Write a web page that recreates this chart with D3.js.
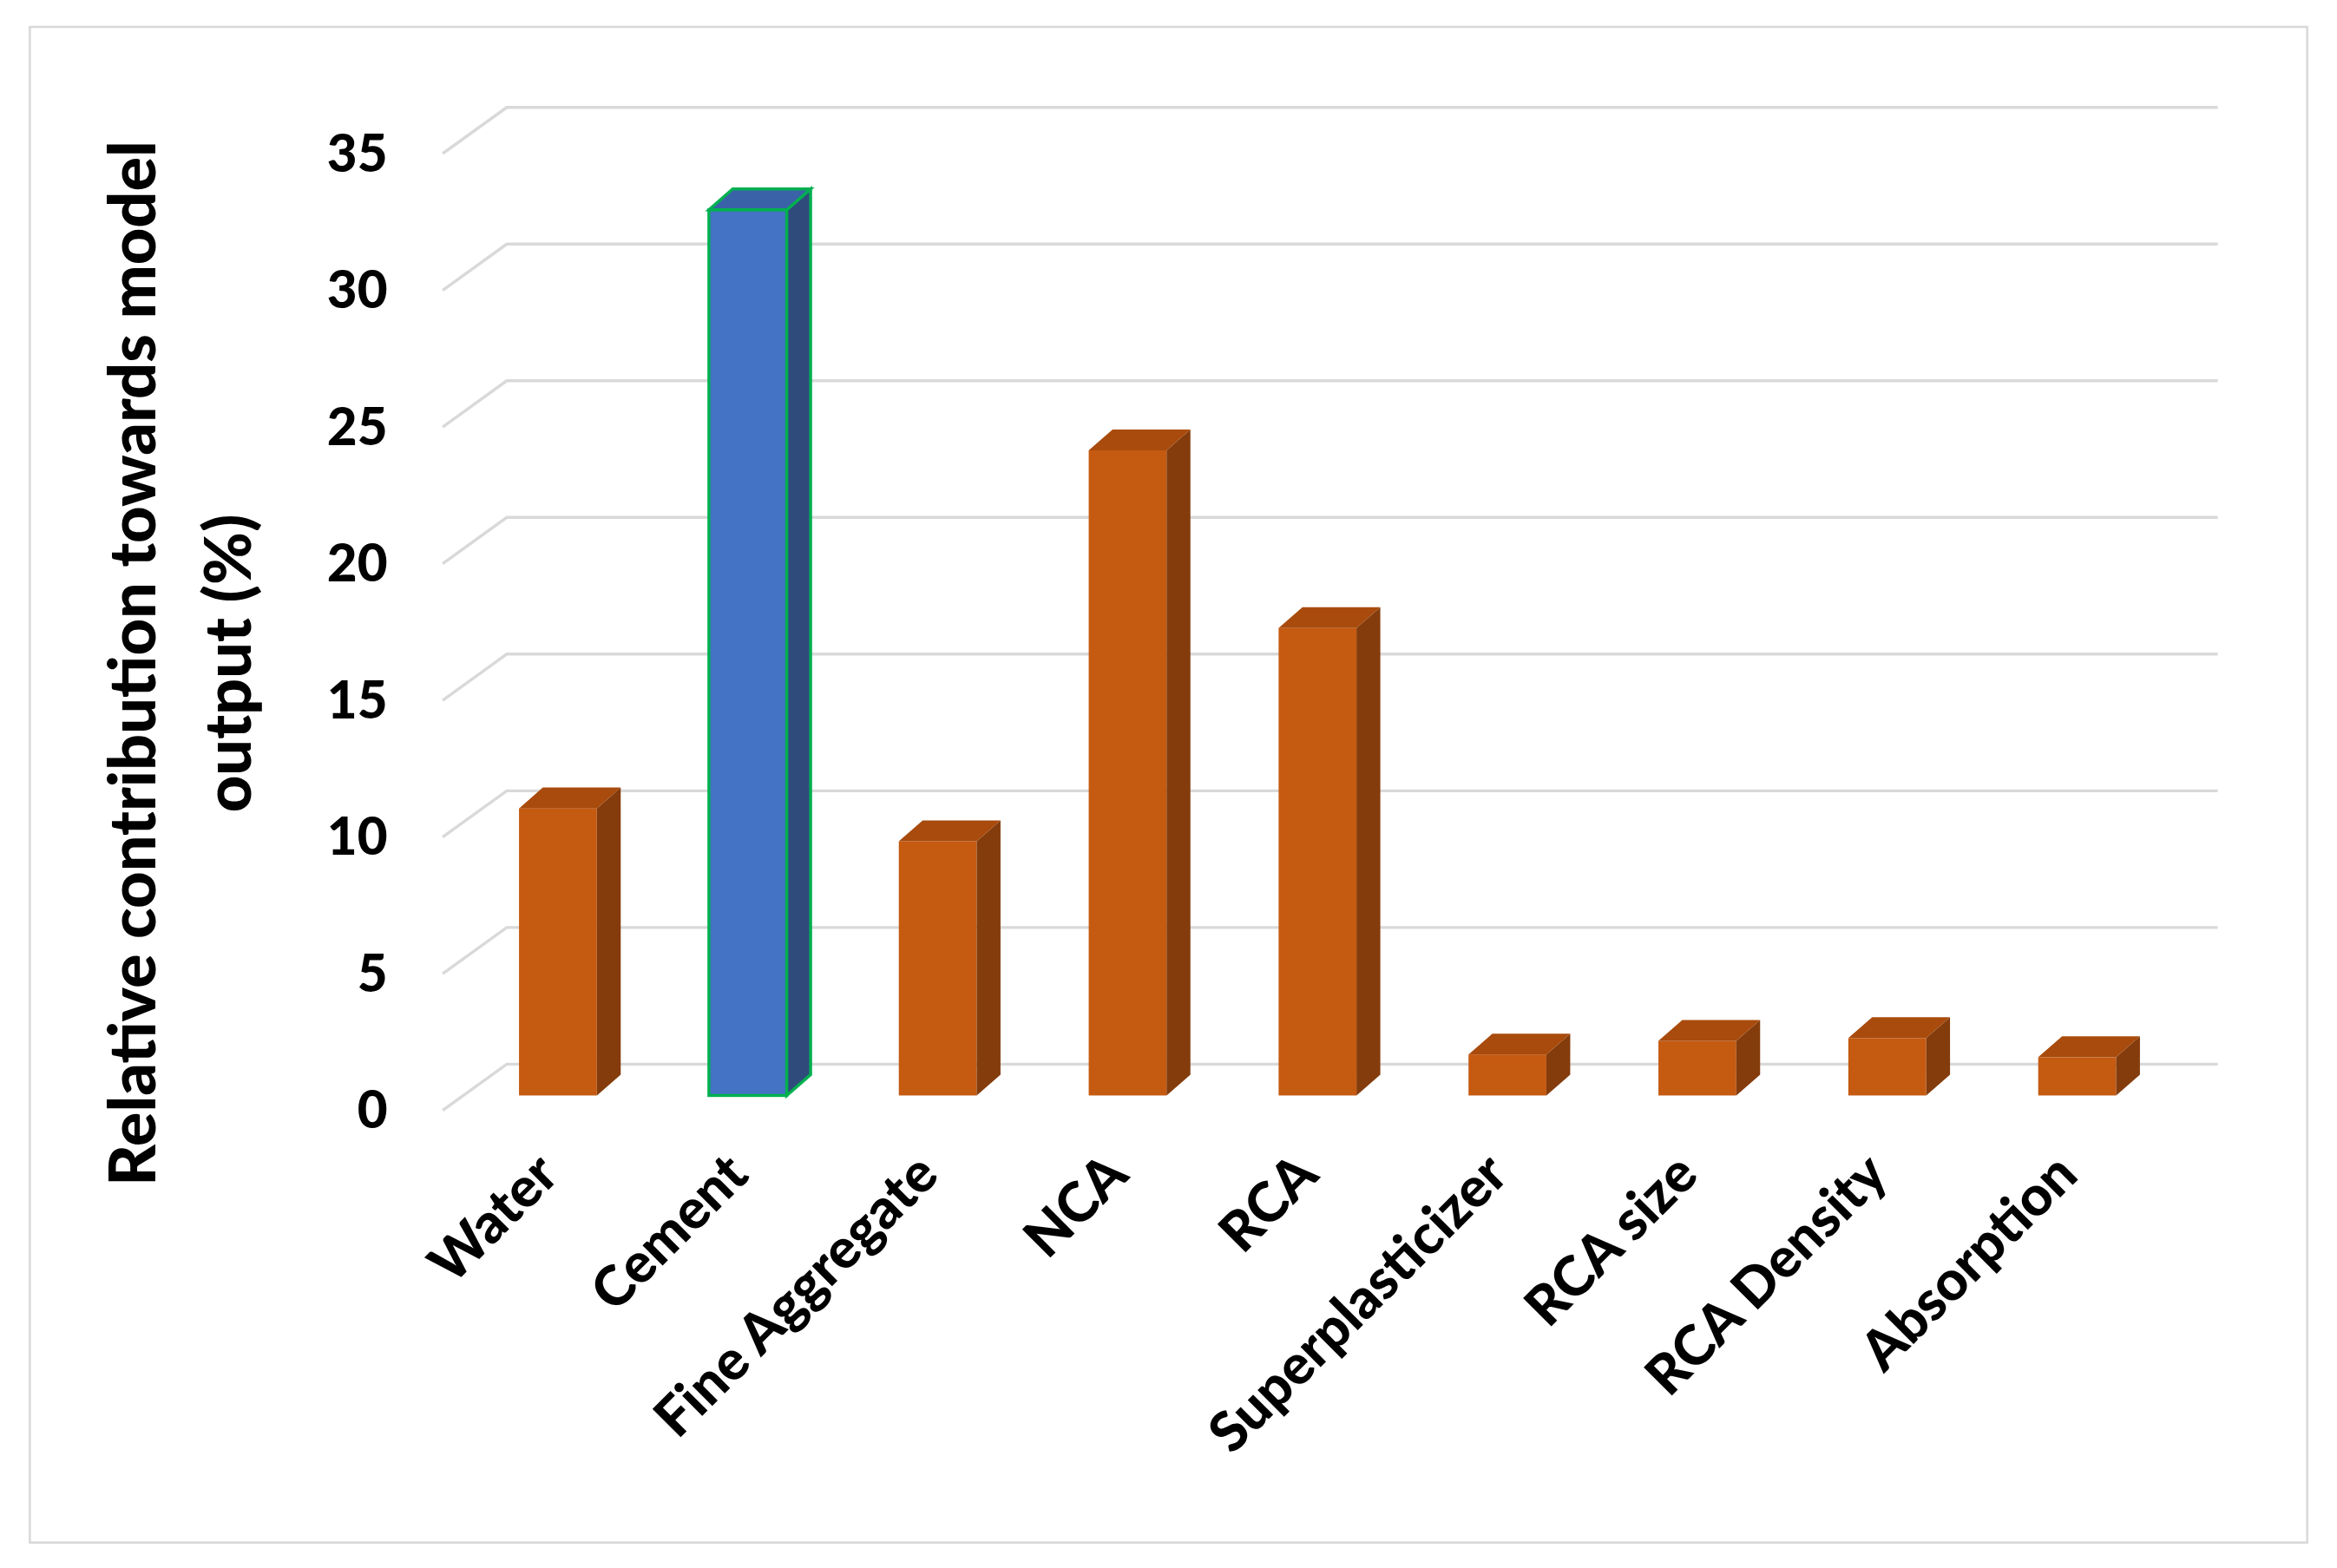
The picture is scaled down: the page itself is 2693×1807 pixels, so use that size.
<!DOCTYPE html>
<html><head><meta charset="utf-8">
<script src="https://cdn.jsdelivr.net/npm/d3@7"></script>
<style>body{margin:0;background:#fff}</style>
</head><body><div id="chart"></div>
<script>
const categories = ['Water', 'Cement', 'Fine Aggregate', 'NCA', 'RCA', 'Superplasticizer', 'RCA size', 'RCA Density', 'Absorption']
const values = [10.5, 32.4, 9.3, 23.6, 17.1, 1.5, 2.0, 2.1, 1.4]
const yTicks = [0, 5, 10, 15, 20, 25, 30, 35]
const highlight = 'Cement'

const W = 1568, H = 1052
const svg = d3.select('#chart').append('svg')
    .attr('width', 2693).attr('height', 1807)
    .attr('viewBox', `0 0 ${W} ${H}`)
const font = 'Lato, "Open Sans", sans-serif'

// frame
svg.append('rect').attr('x', 20).attr('y', 18).attr('width', 1528).attr('height', 1017)
    .attr('fill', 'none').attr('stroke', '#d9d9d9').attr('stroke-width', 1.5)

// depth of the 3d floor
const dx = 43, dy = -31
const yScale = d3.scaleLinear().domain([0, 35]).range([745, 103])
const xScale = d3.scaleBand().domain(categories).range([310, 1458]).paddingInner(0.59).paddingOuter(0.3)

// grid
const grid = svg.append('g').attr('stroke', '#d9d9d9').attr('stroke-width', 2).attr('fill', 'none')
grid.selectAll('path').data(yTicks).join('path')
    .attr('d', d => `M297,${yScale(d)}L${297 + dx},${yScale(d) + dy}L1488,${yScale(d) + dy}`)

// tick labels
svg.append('g').selectAll('text').data(yTicks).join('text')
    .attr('x', 260).attr('y', d => yScale(d) + 12)
    .attr('text-anchor', 'end').attr('font-family', font).attr('font-weight', 900)
    .attr('font-size', 35).text(d => d)

// bars
const base = yScale(0) - 10
const bw = xScale.bandwidth(), bdx = 16, bdy = -14
const bars = svg.append('g').selectAll('g').data(categories).join('g')
bars.each(function (c, i) {
    const g = d3.select(this)
    const hi = c === highlight
    const x = xScale(c), top = base - (yScale(0) - yScale(values[i]))
    const stroke = hi ? '#00b050' : 'none'
    g.append('rect').attr('x', x).attr('y', top).attr('width', bw).attr('height', base - top)
        .attr('fill', hi ? '#4472c4' : '#c55a11').attr('stroke', stroke).attr('stroke-width', 2)
    g.append('path').attr('d', `M${x + bw},${top}L${x + bw + bdx},${top + bdy}L${x + bw + bdx},${base + bdy}L${x + bw},${base}Z`)
        .attr('fill', hi ? '#2f4b7c' : '#843c0c').attr('stroke', stroke).attr('stroke-width', 2)
    g.append('path').attr('d', `M${x},${top}L${x + bdx},${top + bdy}L${x + bw + bdx},${top + bdy}L${x + bw},${top}Z`)
        .attr('fill', hi ? '#3a62a8' : '#a84b0d').attr('stroke', stroke).attr('stroke-width', 2)
})

// x labels
svg.append('g').selectAll('text').data(categories).join('text')
    .attr('transform', d => `translate(${xScale(d) + bw / 2 + 2},${790}) rotate(-45)`)
    .attr('text-anchor', 'end').attr('font-family', font).attr('font-weight', 900)
    .attr('font-size', 37).text(d => d)

// y title
const yt = svg.append('text').attr('transform', 'translate(0,445) rotate(-90)')
    .attr('text-anchor', 'middle').attr('font-family', font).attr('font-weight', 900).attr('font-size', 43)
yt.append('tspan').attr('x', 0).attr('y', 104).text('Relative contribution towards model')
yt.append('tspan').attr('x', 0).attr('y', 168).text('output (%)')
</script>
</body></html>
